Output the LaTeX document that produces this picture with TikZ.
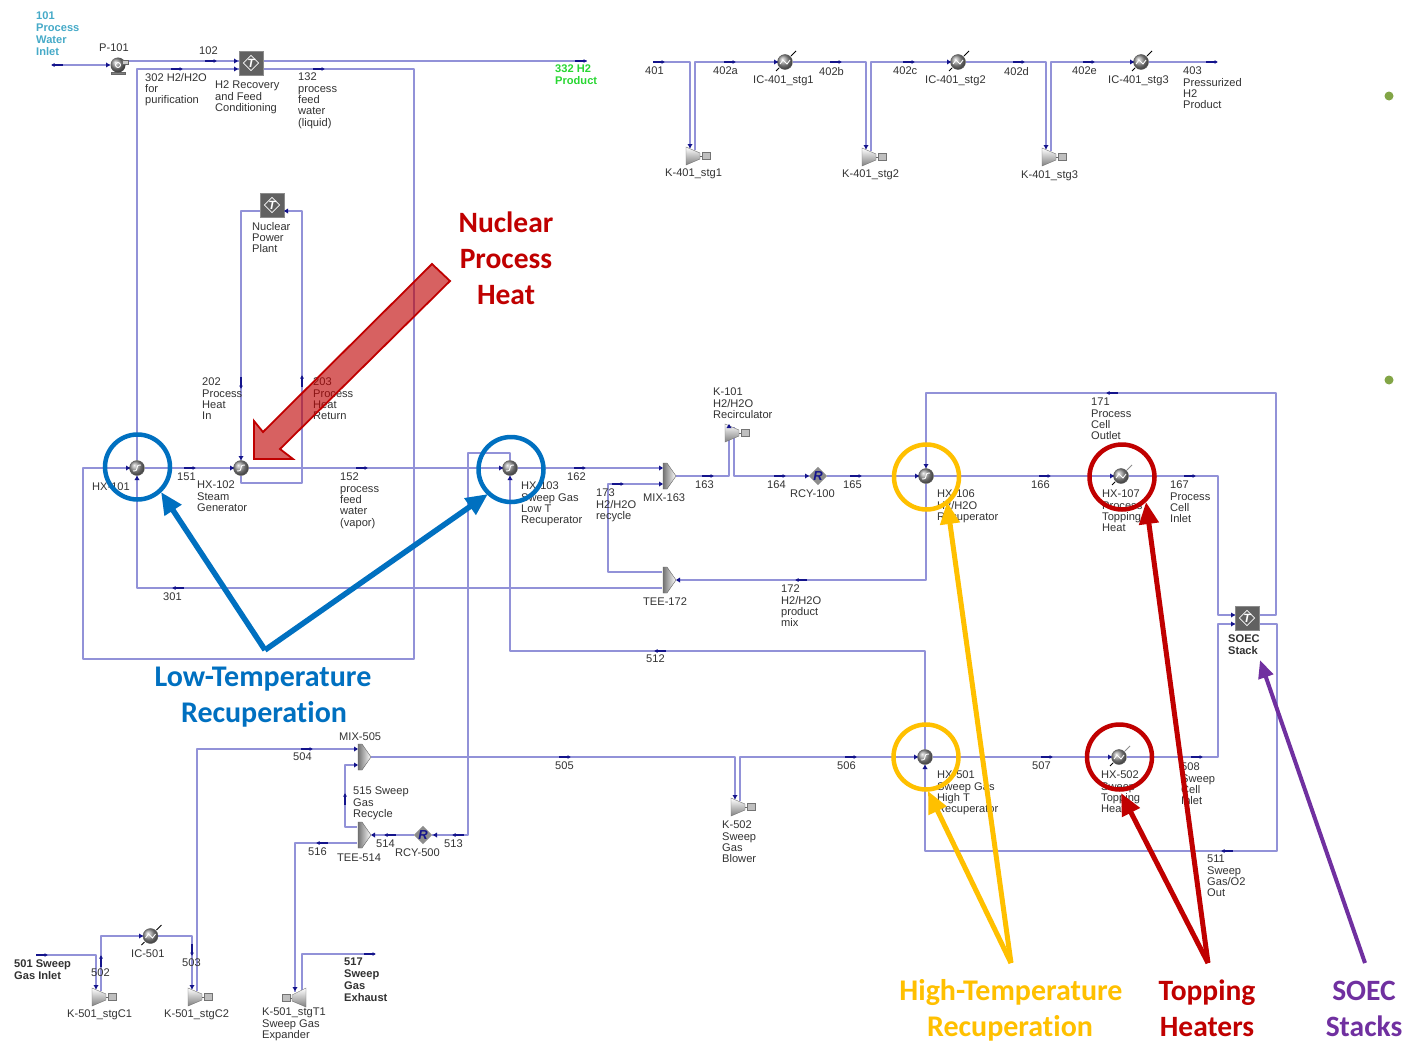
\documentclass[tikz,border=0pt]{standalone}
\usepackage{fontspec}
\setmainfont{Liberation Sans}
\newfontfamily\calfont[Ligatures=NoCommon]{Carlito}
\usetikzlibrary{arrows.meta,shapes.geometric,calc,shadings}
\definecolor{linecol}{RGB}{146,146,216}
\definecolor{navyc}{RGB}{20,20,140}
\definecolor{labc}{RGB}{50,50,50}
\definecolor{cyanc}{RGB}{70,170,200}
\definecolor{greenc}{RGB}{40,215,50}
\definecolor{bluec}{RGB}{0,112,192}
\definecolor{redc}{RGB}{192,0,0}
\definecolor{yelc}{RGB}{255,192,0}
\definecolor{purc}{RGB}{112,48,160}
\definecolor{dotc}{RGB}{130,165,70}
\pgfdeclarelayer{bg}
\pgfsetlayers{bg,main}
\tikzset{
  stream/.style={draw=linecol,line width=1.3pt,line join=round},
  flowmk/.style={draw=navyc,line width=1.7pt,-{Latex[length=3.5pt,width=4pt]}},
  tipmk/.style={fill=navyc,draw=none},
  lab/.style={anchor=north west,inner sep=0pt,align=left,text=labc,font=\fontsize{11.1}{11.3}\selectfont},
  blab/.style={lab,font=\fontsize{11.1}{11.8}\selectfont\bfseries},
  hxball/.style={circle,minimum size=15pt,inner sep=0pt,draw=black!65,line width=.4pt,shading=ball,ball color=black!40},
  hxcurve/.style={draw=white,line width=.9pt},
  tblock/.style={rectangle,minimum size=24pt,inner sep=0pt,fill=black!62,draw=black!45,line width=.6pt},
  tdia/.style={diamond,draw=white,line width=.7pt,inner sep=0pt,text=white,font=\fontsize{12}{12}\selectfont\bfseries\itshape},
  rcy/.style={diamond,fill=black!45,inner sep=0pt,minimum size=17pt,text=navyc,font=\fontsize{13}{13}\selectfont\bfseries\itshape},
  eqbox/.style={inner sep=0pt,minimum width=24pt,minimum height=18pt,anchor=west},
  cone/.style={draw=black!55,line width=.4pt,top color=white,bottom color=black!50},
  mixs/.style={draw=black!60,line width=.4pt,left color=black!55,right color=white},
  ring/.style={circle,minimum size=65pt,inner sep=0pt,line width=4.5pt},
  call/.style={line width=#1,-{Triangle[length=22pt,width=19pt]}},
  big/.style={font=\fontsize{29.5}{29.5}\calfont\bfseries,inner sep=0pt,anchor=base},
  bigw/.style={font=\fontsize{30}{30}\calfont\bfseries,inner sep=0pt,anchor=base}
}
\newcommand\fl[3]{\draw[flowmk,shift={(#1,#2)},rotate=#3] (-6,0) -- (6,0);}
\newcommand\tp[3]{\fill[tipmk,shift={(#1,#2)},rotate=#3] (-3,-2.5) -- (1,0) -- (-3,2.5) -- cycle;}
\newcommand\lb[4]{\node[lab] (#1) at (#2,#3-4) {#4};}
\newcommand\blb[4]{\node[blab] (#1) at (#2,#3-4) {#4};}
\newcommand\hxs[3]{\node[hxball] (#1) at (#2,#3) {};
  \draw[hxcurve] (#2-4,#3+3) .. controls (#2+4,#3+3) and (#2-4,#3-3) .. (#2+4,#3-3);}
\newcommand\heater[4]{\node[hxball] (#1) at (#2,#3) {};
  \draw[hxcurve] (#2-5,#3+2) -- (#2-2,#3-2) -- (#2+2,#3+2) -- (#2+5,#3-2);
  \draw[#4,line width=.9pt] (#2+6,#3-6) -- (#2+11,#3-11);
  \draw[black,line width=.9pt] (#2-6,#3+6) -- (#2-9,#3+9);}
\newcommand\tblk[3]{\node[tblock] (#1) at (#2,#3) {}; \node[tdia] (#1d) at (#2,#3) {T};}
\newcommand\kcomp[3]{\node[eqbox] (#1) at (#2,#3) {};
  \coordinate (#1i) at (#2+4,#3-8); \coordinate (#1o) at (#2+9,#3-6);
  \draw[cone] (#2,#3-9) -- (#2+14,#3-3) -- (#2+14,#3+3) -- (#2,#3+9) -- cycle;
  \draw[draw=black!55,fill=black!25,line width=.4pt] (#2+16,#3-3.5) rectangle (#2+24,#3+3.5);
  \draw[draw=black!60,line width=.8pt] (#2+14,#3) -- (#2+16,#3);}
\newcommand\kexp[3]{\node[eqbox] (#1) at (#2,#3) {};
  \coordinate (#1i) at (#2+13,#3-6); \coordinate (#1o) at (#2+20,#3-8);
  \draw[cone] (#2+24,#3-10) -- (#2+10,#3-3) -- (#2+10,#3+3) -- (#2+24,#3+9) -- cycle;
  \draw[draw=black!55,fill=black!25,line width=.4pt] (#2,#3-3.5) rectangle (#2+8,#3+3.5);
  \draw[draw=black!60,line width=.8pt] (#2+8,#3) -- (#2+10,#3);}
\newcommand\mixr[3]{\node[inner sep=0pt,minimum width=15pt,minimum height=25pt,anchor=west] (#1) at (#2,#3) {};
  \coordinate (#1A) at (#2,#3-8); \coordinate (#1B) at (#2,#3+8); \coordinate (#1O) at (#2+14,#3);
  \draw[mixs] (#2+1,#3-13) -- (#2+5,#3-13) -- (#2+14,#3) -- (#2+5,#3+13) -- (#2+1,#3+13) -- cycle;}
\begin{document}
\begin{tikzpicture}[x=1pt,y=-1pt]
\useasboundingbox (0,0) rectangle (1403,1041);
\begin{pgfonlayer}{bg}
\fill[white] (0,0) rectangle (1403,1041);
\end{pgfonlayer}

% --- equipment ---
\node[inner sep=0pt,minimum size=15pt,circle] (p101) at (118,65) {};
\draw[fill=black!50,draw=black!60] (111,72) rectangle (125,74);
\shade[ball color=black!45] (118,65) circle (7.5);
\draw[fill=black!20,draw=black!60,line width=.4pt] (122,60) rectangle (128,64);
\draw[white,line width=.9pt] (118,65) circle (2.5);
\coordinate (p101o) at (127,61);
\coordinate (s101) at (52,65);
\tblk{tb1}{251}{63}
\coordinate (tb1a) at (239,61); \coordinate (tb1b) at (239,69);
\coordinate (tb1c) at (263,61); \coordinate (tb1d) at (263,69);
\coordinate (s332) at (587,61);
\tblk{tb2}{272}{205}
\coordinate (tb2a) at (260,211); \coordinate (tb2b) at (284,211);
\hxs{hx101}{137}{468}
\hxs{hx102}{241}{468}
\hxs{hx103}{510}{468}
\hxs{hx106}{926}{476}
\heater{hx107}{1121}{476}{black!45}
\hxs{hx501}{925}{757}
\heater{hx502}{1119}{757}{black!45}
\mixr{mix163}{662}{476}
\mixr{tee172}{662}{580}
\mixr{mix505}{357}{757}
\mixr{tee514}{357}{835}
\kcomp{k101}{725}{433}
\node[rcy] (rcy100) at (818,476) {R};
\node[rcy] (rcy500) at (423,835) {R};
\tblk{soec}{1247}{618}
\coordinate (soecA) at (1235,615); \coordinate (soecB) at (1259,615);
\coordinate (soecC) at (1235,624); \coordinate (soecD) at (1259,624);
\kcomp{k502}{731}{807}
\kcomp{c1}{92}{997}
\kcomp{c2}{188}{997}
\kexp{t1}{282}{998}
\heater{ic501}{150.5}{936}{black}
\coordinate (s501) at (37,955);
\coordinate (s517) at (375,954);
\coordinate (s401) at (654,62);
\coordinate (s403) at (1217,62);
\kcomp{ka}{686}{156}
\kcomp{kb}{862}{157}
\kcomp{kc}{1042}{157}
\heater{ica}{785}{62}{black}
\heater{icb}{958}{62}{black}
\heater{icc}{1141}{62}{black}

% --- streams ---
\begin{pgfonlayer}{bg}
\draw[stream] (s101) -- (p101);
\draw[stream] (p101o) -- (tb1a);
\draw[stream] (tb1c) -- (s332);
\draw[stream] (hx101) -- (137,69) -- (tb1b);
\draw[stream] (tb1d) -- (414,69) -- (414,659) -- (83,659) -- (83,468) -- (hx101);
\draw[stream] (tee172B) -- (137,588) -- (hx101);
\draw[stream] (hx101) -- (hx102);
\draw[stream] (hx102) -- (hx103);
\draw[stream] (hx103) -- (mix163A |- hx103);
\draw[stream] (tb2a) -- (241,211) -- (hx102);
\draw[stream] (hx102) -- (241,483) -- (302,483) -- (302,211) -- (tb2b);
\draw[stream] (tee172A) -- (608,572) -- (608,484) -- (mix163B);
\draw[stream] (hx106) -- (926,580) -- (tee172);
\draw[stream] (mix163O) -- (729,476) -- (k101i);
\draw[stream] (k101o) -- (734,476) -- (rcy100);
\draw[stream] (rcy100) -- (hx106);
\draw[stream] (hx106) -- (hx107);
\draw[stream] (hx107) -- (1218,476) -- (1218,615) -- (soecA);
\draw[stream] (soecB) -- (1276,615) -- (1276,393) -- (926,393) -- (hx106);
\draw[stream] (hx502) -- (1218,757) -- (1218,624) -- (soecC);
\draw[stream] (soecD) -- (1277,624) -- (1277,851) -- (925,851) -- (hx501);
\draw[stream] (hx501) -- (925,651) -- (510,651) -- (hx103);
\draw[stream] (hx103) -- (510,453) -- (468,453) -- (468,835) -- (rcy500);
\draw[stream] (rcy500) -- (tee514);
\draw[stream] (tee514A) -- (345,827) -- (345,765) -- (mix505B);
\draw[stream] (tee514B) -- (295,843) -- (t1i);
\draw[stream] (t1o) -- (302,954) -- (s517);
\draw[stream] (c2o) -- (197,749) -- (mix505A);
\draw[stream] (mix505O) -- (735,757) -- (k502i);
\draw[stream] (k502o) -- (740,757) -- (hx501);
\draw[stream] (hx501) -- (hx502);
\draw[stream] (s501) -- (96,955) -- (c1i);
\draw[stream] (c1o) -- (101,936) -- (ic501);
\draw[stream] (ic501) -- (192,936) -- (c2i);
\draw[stream] (s401) -- (690,62) -- (kai);
\draw[stream] (kao) -- (695,62) -- (ica);
\draw[stream] (ica) -- (866,62) -- (kbi);
\draw[stream] (kbo) -- (871,62) -- (icb);
\draw[stream] (icb) -- (1046,62) -- (kci);
\draw[stream] (kco) -- (1051,62) -- (icc);
\draw[stream] (icc) -- (s403);
\end{pgfonlayer}

% --- flow markers ---
\fl{57}{65}{180}\fl{211}{61}{0}\fl{177}{69}{0}\fl{319}{69}{0}\fl{581}{61}{0}
\fl{659}{62}{0}\fl{730}{62}{0}\fl{836}{62}{0}\fl{909}{62}{0}\fl{1019}{62}{0}\fl{1089}{62}{0}\fl{1212}{62}{0}
\fl{241}{383}{270}\fl{302}{381}{90}
\fl{190}{468}{0}\fl{362}{468}{0}\fl{580}{468}{0}\fl{618}{484}{0}
\fl{178}{588}{180}\fl{660}{651}{180}
\fl{708}{476}{0}\fl{780}{476}{0}\fl{856}{476}{0}\fl{1045}{476}{0}\fl{1190}{476}{0}
\fl{1112}{393}{180}\fl{801}{580}{180}
\fl{307}{749}{0}\fl{565}{757}{0}\fl{851}{757}{0}\fl{1047}{757}{0}\fl{1197}{757}{0}
\fl{1227}{851}{180}\fl{458}{835}{180}\fl{390}{835}{180}\fl{322}{843}{180}
\fl{345}{799}{90}\fl{42}{955}{0}\fl{101}{961}{90}\fl{192}{950}{270}\fl{370}{954}{0}

% --- small inlet tips ---
\tp{129}{468}{0}\tp{137}{477}{90}\tp{233}{468}{0}\tp{241}{459}{270}
\tp{502}{468}{0}\tp{510}{477}{90}\tp{662}{468}{0}\tp{662}{484}{0}\tp{677}{580}{180}
\tp{918}{476}{0}\tp{926}{467}{270}\tp{1113}{476}{0}\tp{808}{476}{0}
\tp{1234}{615}{0}\tp{1234}{624}{0}\tp{917}{757}{0}\tp{925}{766}{90}\tp{1111}{757}{0}
\tp{357}{749}{0}\tp{357}{765}{0}\tp{372}{835}{180}\tp{434}{835}{180}
\tp{237}{61}{0}\tp{237}{69}{0}\tp{285}{211}{180}\tp{109}{65}{0}
\tp{96}{988}{270}\tp{192}{988}{270}\tp{295}{990}{270}\tp{142}{936}{0}
\tp{690}{147}{270}\tp{866}{148}{270}\tp{1046}{148}{270}\tp{777}{62}{0}\tp{950}{62}{0}\tp{1133}{62}{0}
\tp{735}{798}{270}\tp{729}{425}{90}

% --- labels ---
\node[lab,font=\fontsize{11.1}{12}\selectfont\bfseries,text=cyanc] (l101) at (36,12) {101\\Process\\Water\\Inlet};
\lb{lp101}{99}{48}{P-101}
\lb{l102}{199}{51}{102}
\lb{l302}{145}{77}{302 H2/H2O\\for\\purification}
\lb{ltb1}{215}{85}{H2 Recovery\\and Feed\\Conditioning}
\lb{l132}{298}{77}{132\\process\\feed\\water\\(liquid)}
\node[lab,font=\fontsize{11.1}{12}\selectfont\bfseries,text=greenc] (l332) at (555,65) {332 H2\\Product};
\lb{l401}{645}{71}{401}
\lb{l402a}{713}{71}{402a}
\lb{l402b}{819}{71}{402b}
\lb{l402c}{893}{71}{402c}
\lb{l402d}{1004}{71}{402d}
\lb{l402e}{1072}{71}{402e}
\lb{lica}{753}{80}{IC-401\_stg1}
\lb{licb}{925}{80}{IC-401\_stg2}
\lb{licc}{1108}{80}{IC-401\_stg3}
\lb{l403}{1183}{71}{403\\Pressurized\\H2\\Product}
\lb{lka}{665}{173}{K-401\_stg1}
\lb{lkb}{842}{174}{K-401\_stg2}
\lb{lkc}{1021}{175}{K-401\_stg3}
\lb{lnuc}{252}{226}{Nuclear\\Power\\Plant}
\lb{l202}{202}{382}{202\\Process\\Heat\\In}
\lb{l203}{313}{382}{203\\Process\\Heat\\Return}
\lb{lhx101}{92}{487}{HX-101}
\lb{l151}{177}{477}{151}
\lb{lhx102}{197}{485}{HX-102\\Steam\\Generator}
\lb{l152}{340}{477}{152\\process\\feed\\water\\(vapor)}
\lb{lhx103}{521}{486}{HX-103\\Sweep Gas\\Low T\\Recuperator}
\lb{l162}{567}{477}{162}
\lb{l173}{596}{493}{173\\H2/H2O\\recycle}
\lb{lmix163}{643}{498}{MIX-163}
\lb{ltee172}{643}{602}{TEE-172}
\lb{l301}{163}{597}{301}
\lb{l512}{646}{659}{512}
\lb{l163}{695}{485}{163}
\lb{lk101}{713}{392}{K-101\\H2/H2O\\Recirculator}
\lb{l164}{767}{485}{164}
\lb{lrcy100}{790}{494}{RCY-100}
\lb{l165}{843}{485}{165}
\lb{lhx106}{937}{494}{HX-106\\H2/H2O\\Recuperator}
\lb{l166}{1031}{485}{166}
\lb{lhx107}{1102}{494}{HX-107\\Process\\Topping\\Heat}
\lb{l167}{1170}{485}{167\\Process\\Cell\\Inlet}
\lb{l171}{1091}{402}{171\\Process\\Cell\\Outlet}
\lb{l172}{781}{589}{172\\H2/H2O\\product\\mix}
\blb{lsoec}{1228}{639}{SOEC\\Stack}
\lb{lmix505}{339}{737}{MIX-505}
\lb{l504}{293}{757}{504}
\lb{l505}{555}{766}{505}
\lb{l506}{837}{766}{506}
\lb{l507}{1032}{766}{507}
\lb{l508}{1181}{767}{508\\Sweep\\Cell\\Inlet}
\lb{lhx501}{937}{775}{HX-501\\Sweep Gas\\High T\\Recuperator}
\lb{lhx502}{1101}{775}{HX-502\\Sweep\\Topping\\Heat}
\lb{lk502}{722}{825}{K-502\\Sweep\\Gas\\Blower}
\lb{l511}{1207}{859}{511\\Sweep\\Gas/O2\\Out}
\lb{l515}{353}{791}{515 Sweep\\Gas\\Recycle}
\lb{l514}{376}{844}{514}
\lb{l513}{444}{844}{513}
\lb{lrcy500}{395}{853}{RCY-500}
\lb{ltee514}{337}{858}{TEE-514}
\lb{l516}{308}{852}{516}
\lb{lt1}{262}{1012}{K-501\_stgT1\\Sweep Gas\\Expander}
\blb{l517}{344}{962}{517\\Sweep\\Gas\\Exhaust}
\blb{l501}{14}{964}{501 Sweep\\Gas Inlet}
\lb{l502}{91}{973}{502}
\lb{l503}{182}{963}{503}
\lb{lic501}{131}{954}{IC-501}
\lb{lc1}{67}{1014}{K-501\_stgC1}
\lb{lc2}{164}{1014}{K-501\_stgC2}

% --- annotation overlays ---
\path[fill=red!75!black,fill opacity=.62,draw=redc,line width=1.8pt,line join=miter]
  (432,264) -- (450,281) -- (280,449) -- (293,459) -- (254,459) -- (254,421) -- (263,432) -- cycle;
\node[ring,draw=bluec] (rhx101) at (137.5,467) {};
\node[ring,draw=bluec] (rhx103) at (511,469.5) {};
\node[ring,draw=yelc] (rhx106) at (926.5,477) {};
\node[ring,draw=redc] (rhx107) at (1122,477) {};
\node[ring,draw=yelc] (rhx501) at (926,757) {};
\node[ring,draw=redc] (rhx502) at (1119.5,757) {};
\coordinate (ablue) at (265,650);
\coordinate (tb101) at (161,492);
\coordinate (tb103) at (488,494);
\coordinate (ayel) at (1011,963);
\coordinate (ty106) at (947,502);
\coordinate (ty501) at (928,791);
\coordinate (ared) at (1208,963);
\coordinate (tr107) at (1146,502);
\coordinate (tr502) at (1121,793);
\coordinate (apur) at (1365,963);
\coordinate (tpur) at (1260,660);
\draw[call=5.5pt,draw=bluec,fill=bluec] (ablue) -- (tb101);
\draw[call=5.5pt,draw=bluec,fill=bluec] (ablue) -- (tb103);
\draw[call=5pt,draw=yelc,fill=yelc] (ayel) -- (ty106);
\draw[call=5pt,draw=yelc,fill=yelc] (ayel) -- (ty501);
\draw[call=5pt,draw=redc,fill=redc] (ared) -- (tr107);
\draw[call=5pt,draw=redc,fill=redc] (ared) -- (tr502);
\draw[line width=4pt,draw=purc,-{Triangle[length=18pt,width=15pt]}] (apur) -- (tpur);

\node[big,text=redc] (c1a) at (506,232) {Nuclear};
\node[big,text=redc] (c1b) at (506,268) {Process};
\node[big,text=redc] (c1c) at (506,304) {Heat};
\node[bigw,text=bluec] (c2a) at (263,686) {Low-Temperature};
\node[bigw,text=bluec] (c2b) at (264,722) {Recuperation};
\node[bigw,text=yelc] (c3a) at (1011,1000) {High-Temperature};
\node[bigw,text=yelc] (c3b) at (1010,1036) {Recuperation};
\node[big,text=redc] (c4a) at (1207,1000) {Topping};
\node[big,text=redc] (c4b) at (1207,1036) {Heaters};
\node[big,text=purc] (c5a) at (1364,1000) {SOEC};
\node[big,text=purc] (c5b) at (1364,1036) {Stacks};

\node[circle,fill=dotc,minimum size=9pt,inner sep=0pt] (d1) at (1389,96) {};
\node[circle,fill=dotc,minimum size=9pt,inner sep=0pt] (d2) at (1389,380) {};
\end{tikzpicture}
\end{document}
